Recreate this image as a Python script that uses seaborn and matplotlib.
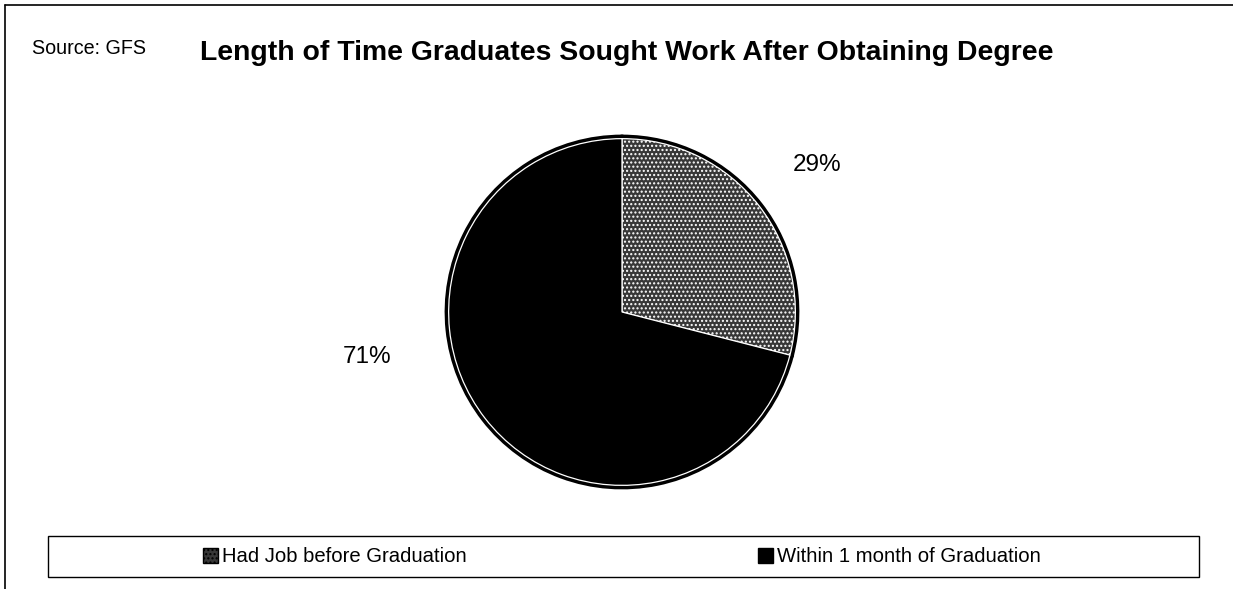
import matplotlib
matplotlib.use("Agg")
import matplotlib.pyplot as plt
from matplotlib.lines import Line2D
from matplotlib.patches import Rectangle
import seaborn as sns

# data
labels = ["Had Job before Graduation", "Within 1 month of Graduation"]
shares = [29, 71]
pct_text = ["29%", "71%"]

sns.set_theme(style="white")
plt.rcParams['font.family'] = ['Liberation Sans', 'DejaVu Sans']
plt.rcParams['text.color'] = 'black'
plt.rcParams['hatch.color'] = '#8c8c8c'
plt.rcParams['hatch.linewidth'] = 1.0

colors = ["#383838", "#000000"]

W, H = 1233, 589
fig = plt.figure(figsize=(W / 100, H / 100), dpi=100)
fig.patch.set_facecolor('white')

# pie axes placed so the circle sits where the reference has it (center ~ (622, 312), r ~ 176)
ax = fig.add_axes([446 / W, 1 - 488 / H, 352 / W, 352 / H])
# black rim underneath, coloured wedges with white edges on top
ax.pie(shares, colors=["black", "black"], startangle=90, counterclock=False,
       radius=1.0, wedgeprops=dict(edgecolor='black', linewidth=2))
wedges, _ = ax.pie(shares, colors=colors, startangle=90, counterclock=False,
                   radius=0.985, wedgeprops=dict(edgecolor='white', linewidth=0.9))
wedges[0].set_hatch('....')
ax.set_aspect('equal')
ax.set_xlim(-1.0, 1.0)
ax.set_ylim(-1.0, 1.0)

# percentage labels
fig.text(817 / W, 1 - 165 / H, pct_text[0], fontsize=17.5, ha='center', va='center')
fig.text(367 / W, 1 - 357 / H, pct_text[1], fontsize=17.5, ha='center', va='center')

# titles
fig.text(32 / W, 1 - 48 / H, "Source: GFS", fontsize=14.2, ha='left', va='center')
fig.text(200 / W, 1 - 53 / H, "Length of Time Graduates Sought Work After Obtaining Degree",
         fontsize=20.4, fontweight='bold', ha='left', va='center')

# outer frame lines
fig.add_artist(Line2D([5 / W, 5 / W], [0, 1 - 5 / H], color='black', lw=1.2))
fig.add_artist(Line2D([5 / W, 1], [1 - 5 / H, 1 - 5 / H], color='black', lw=1.2))

# legend box
fig.add_artist(Rectangle((48 / W, 1 - 577 / H), 1151 / W, 41 / H, transform=fig.transFigure,
                         fill=False, edgecolor='black', lw=1.0))
leg = fig.legend(wedges, labels, loc='center',
                 bbox_to_anchor=(622 / W, 1 - 557 / H),
                 ncol=2, frameon=False,
                 fontsize=14.6, handlelength=0.7, handleheight=0.7, handletextpad=0.2,
                 columnspacing=14.4, borderaxespad=0)
for h in leg.legend_handles:
    h.set_edgecolor('black')
    h.set_linewidth(1.0)

fig.savefig("out.png", dpi=100, facecolor='white')
